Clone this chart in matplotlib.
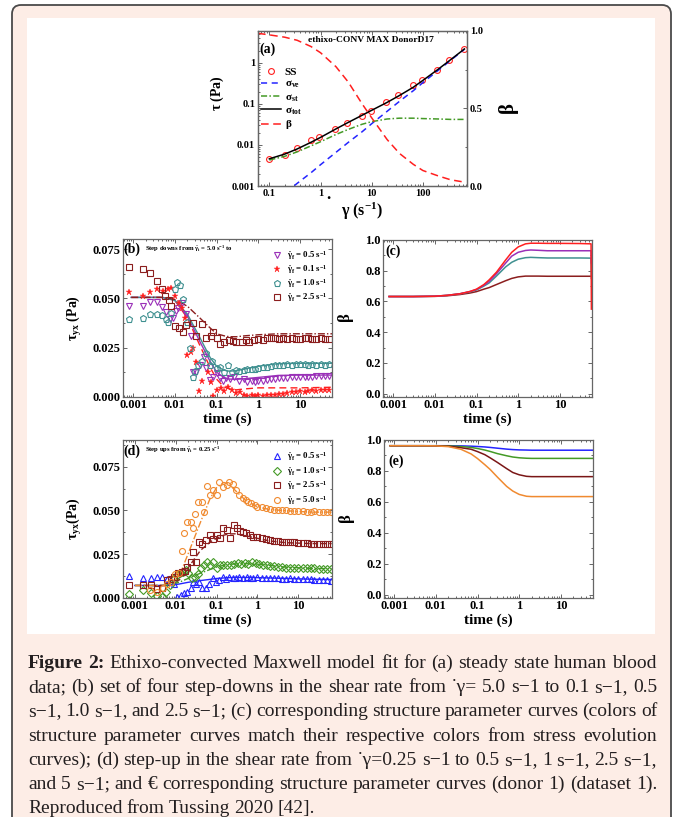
import matplotlib
matplotlib.use('Agg')
import matplotlib.pyplot as plt
from matplotlib.patches import FancyBboxPatch, Rectangle
from matplotlib.ticker import FixedLocator, FixedFormatter, LogLocator, MultipleLocator, NullFormatter, FormatStrFormatter

plt.rcParams['font.family'] = ['Liberation Serif', 'DejaVu Serif']
plt.rcParams['font.weight'] = 'bold'
plt.rcParams['mathtext.fontset'] = 'custom'
plt.rcParams['mathtext.rm'] = 'Liberation Serif:bold'
plt.rcParams['mathtext.it'] = 'Liberation Serif:bold'
plt.rcParams['mathtext.bf'] = 'Liberation Serif:bold'
plt.rcParams['mathtext.sf'] = 'Liberation Serif:bold'
plt.rcParams['axes.labelweight'] = 'bold'

# ---------------- (a) steady state ----------------
SS_RATE = [0.1, 0.2, 0.35, 0.65, 0.95, 1.9, 3.3, 6.6, 9.5, 19, 33, 65, 95, 185, 320, 630]
SS_TAU = [0.0045, 0.0058, 0.0083, 0.0133, 0.0154, 0.025, 0.035, 0.051, 0.068, 0.114,
          0.166, 0.285, 0.38, 0.67, 1.15, 2.13]
FIT_RATE = [0.1, 0.2, 0.35, 0.65, 1, 2, 3.5, 6.5, 10, 20, 35, 65, 100, 200, 350, 650]
SIG_VE = [0.00033, 0.00066, 0.00116, 0.0021, 0.0033, 0.0066, 0.0116, 0.021, 0.033, 0.066,
          0.116, 0.21, 0.33, 0.66, 1.16, 2.15]
SIG_ST = [0.0043, 0.0053, 0.0068, 0.0095, 0.012, 0.018, 0.024, 0.032, 0.037, 0.043,
          0.045, 0.045, 0.044, 0.043, 0.042, 0.042]
SIG_TOT = [0.0046, 0.006, 0.008, 0.0116, 0.0153, 0.0246, 0.0356, 0.053, 0.07, 0.109,
           0.161, 0.255, 0.374, 0.703, 1.2, 2.19]
BETA_RATE = [0.06, 0.1, 0.2, 0.35, 0.65, 1, 2, 3.5, 6.5, 10, 20, 35, 65, 100, 200, 350, 650]
BETA_SS = [0.985, 0.975, 0.96, 0.94, 0.90, 0.86, 0.77, 0.67, 0.53, 0.44, 0.30, 0.21, 0.14,
           0.10, 0.065, 0.04, 0.025]

# ---------------- (b) step downs ----------------
B_T_01 = [0.0008, 0.0017, 0.0026, 0.0038, 0.0052, 0.0069, 0.0083, 0.01, 0.0128, 0.0145, 0.018,
          0.0198, 0.024, 0.028, 0.033, 0.038, 0.044, 0.063, 0.073, 0.083, 0.104, 0.13, 0.15, 0.19,
          0.23, 0.29, 0.36, 0.45, 0.55, 0.7, 0.85, 1.0, 1.3, 1.6, 2, 2.5, 3.2, 4, 5, 6.3, 8, 10,
          13, 16, 20, 25, 32, 40, 50]
B_TAU_01 = [0.0535, 0.051, 0.0535, 0.055, 0.054, 0.0546, 0.0555, 0.0512, 0.0475, 0.045, 0.040,
            0.0212, 0.0225, 0.0246, 0.0178, 0.0029, 0.008, 0.0127, 0.0076, 0.0005, 0.0034, 0.0046,
            0.003, 0.005, 0.0034, 0.0017, 0.0025, 0.001, 0.0005, 0.0007, 0.0005, 0.0008, 0.0005,
            0.001, 0.0008, 0.001, 0.0015, 0.0012, 0.002, 0.0022, 0.0025, 0.003, 0.0025, 0.003,
            0.0032, 0.003, 0.0033, 0.0032, 0.0035]
B_T_05 = [0.0008, 0.0017, 0.0026, 0.0038, 0.0048, 0.006, 0.0076, 0.0088, 0.0105, 0.012, 0.015,
          0.019, 0.024, 0.028, 0.033, 0.04, 0.05, 0.057, 0.069, 0.083, 0.1, 0.12, 0.14, 0.17, 0.21,
          0.27, 0.35, 0.45, 0.55, 0.7, 0.85, 1.0, 1.3, 1.6, 2, 2.5, 3.2, 4, 5, 6.3, 8, 10, 13, 16,
          20, 25, 32, 40, 50]
B_TAU_05 = [0.046, 0.046, 0.048, 0.048, 0.0458, 0.043, 0.0395, 0.040, 0.0436, 0.045, 0.0475,
            0.042, 0.031, 0.0127, 0.0127, 0.016, 0.020, 0.0144, 0.0085, 0.010, 0.0119, 0.0093,
            0.008, 0.0097, 0.009, 0.0102, 0.008, 0.009, 0.0075, 0.008, 0.0075, 0.008, 0.008,
            0.0085, 0.009, 0.009, 0.0095, 0.0095, 0.0095, 0.010, 0.0098, 0.010, 0.0102, 0.010,
            0.0102, 0.0105, 0.0103, 0.0105, 0.0105]
B_T_10 = [0.0008, 0.0017, 0.0026, 0.0038, 0.0048, 0.006, 0.0069, 0.0083, 0.01, 0.0115, 0.013,
          0.016, 0.0198, 0.023, 0.027, 0.03, 0.036, 0.046, 0.055, 0.069, 0.08, 0.1, 0.12, 0.15,
          0.19, 0.23, 0.29, 0.35, 0.45, 0.55, 0.7, 0.85, 1.0, 1.3, 1.6, 2, 2.5, 3.2, 4, 5, 6.3, 8,
          10, 13, 16, 20, 25, 32, 40, 50]
B_TAU_10 = [0.0395, 0.040, 0.042, 0.042, 0.0415, 0.0395, 0.038, 0.0424, 0.055, 0.0585, 0.057,
            0.0497, 0.038, 0.0246, 0.0102, 0.013, 0.016, 0.018, 0.022, 0.016, 0.018, 0.0144,
            0.0153, 0.0127, 0.016, 0.0127, 0.0136, 0.013, 0.0135, 0.014, 0.014, 0.014, 0.0145,
            0.015, 0.015, 0.0155, 0.016, 0.016, 0.016, 0.0165, 0.016, 0.0165, 0.0165, 0.0165,
            0.016, 0.0165, 0.016, 0.0165, 0.016, 0.0165]
B_T_25 = [0.0008, 0.0017, 0.0026, 0.0038, 0.005, 0.0058, 0.0073, 0.0083, 0.01, 0.0128, 0.016,
          0.019, 0.028, 0.032, 0.046, 0.055, 0.072, 0.083, 0.1, 0.12, 0.15, 0.2, 0.25, 0.3, 0.4,
          0.5, 0.6, 0.8, 1, 1.3, 1.6, 2, 2.5, 3.2, 4, 5, 6.3, 8, 10, 13, 16, 20, 25, 32, 40, 50]
B_TAU_25 = [0.066, 0.065, 0.063, 0.059, 0.055, 0.051, 0.049, 0.046, 0.036, 0.035, 0.033, 0.0365,
            0.0373, 0.031, 0.037, 0.030, 0.031, 0.033, 0.030, 0.027, 0.028, 0.029, 0.0285, 0.028,
            0.028, 0.029, 0.028, 0.029, 0.0295, 0.029, 0.030, 0.030, 0.030, 0.0295, 0.030, 0.0295,
            0.030, 0.0295, 0.0295, 0.030, 0.030, 0.0295, 0.0295, 0.030, 0.0295, 0.0295]
B_FIT_T = [0.0009, 0.005, 0.01, 0.02, 0.04, 0.07, 0.1, 0.15, 0.2, 0.3, 0.5, 1, 3, 10, 60]
B_FIT_01 = [0.0505, 0.0505, 0.049, 0.040, 0.026, 0.015, 0.009, 0.005, 0.004, 0.0035, 0.004,
            0.0045, 0.0045, 0.0045, 0.0048]
B_FIT_05 = [0.0505, 0.0505, 0.049, 0.041, 0.028, 0.018, 0.0125, 0.0098, 0.009, 0.0088, 0.0092,
            0.0098, 0.0108, 0.011, 0.011]
B_FIT_10 = [0.0505, 0.0505, 0.049, 0.042, 0.030, 0.020, 0.0155, 0.0135, 0.013, 0.0132, 0.0142,
            0.0155, 0.0168, 0.017, 0.017]
B_FIT_25 = [0.0505, 0.0505, 0.0495, 0.046, 0.040, 0.035, 0.032, 0.031, 0.0305, 0.0305, 0.031,
            0.0315, 0.032, 0.032, 0.032]

# ---------------- (c) structure parameter, step downs ----------------
C_T = [0.0008, 0.003, 0.01, 0.02, 0.04, 0.07, 0.1, 0.15, 0.2, 0.3, 0.5, 0.7, 1, 1.5, 2, 3, 5,
       10, 30, 56, 57]
C_01 = [0.632, 0.632, 0.634, 0.64, 0.65, 0.665, 0.68, 0.71, 0.74, 0.79, 0.87, 0.92, 0.955, 0.975,
        0.979, 0.979, 0.978, 0.978, 0.977, 0.975, 0.55]
C_05 = [0.632, 0.632, 0.634, 0.64, 0.65, 0.665, 0.678, 0.705, 0.73, 0.78, 0.85, 0.895, 0.92,
        0.932, 0.935, 0.933, 0.93, 0.93, 0.93, 0.93, 0.85]
C_10 = [0.632, 0.632, 0.634, 0.64, 0.65, 0.662, 0.675, 0.70, 0.72, 0.765, 0.825, 0.855, 0.875,
        0.885, 0.887, 0.885, 0.883, 0.883, 0.883, 0.882, 0.75]
C_25 = [0.632, 0.632, 0.633, 0.637, 0.645, 0.655, 0.664, 0.68, 0.69, 0.71, 0.735, 0.75, 0.76,
        0.765, 0.765, 0.765, 0.764, 0.764, 0.764, 0.764, 0.764]

# ---------------- (d) step ups ----------------
D_T_05 = [0.00073, 0.0016, 0.0025, 0.0035, 0.0047, 0.006, 0.0075, 0.009, 0.011, 0.0134, 0.0158,
          0.019, 0.023, 0.027, 0.032, 0.037, 0.045, 0.055, 0.066, 0.08, 0.096, 0.116, 0.14, 0.17,
          0.2, 0.25, 0.3, 0.36, 0.45, 0.55, 0.65, 0.8, 1, 1.3, 1.6, 2, 2.5, 3.2, 4, 5, 6.3, 8, 10,
          13, 16, 20, 25, 32, 40, 50, 63]
D_TAU_05 = [0.0126, 0.0114, 0.0114, 0.012, 0.012, 0.0107, 0.0095, 0.0076, 0.0003, 0.0015,
            0.0025, 0.0034, 0.0053, 0.0088, 0.0076, 0.0092, 0.0053, 0.0057, 0.0076, 0.011, 0.0092,
            0.0101, 0.012, 0.0107, 0.012, 0.0114, 0.0114, 0.0118, 0.0114, 0.0118, 0.0114, 0.0114,
            0.0116, 0.0114, 0.0114, 0.011, 0.011, 0.0112, 0.0108, 0.0108, 0.011, 0.0108, 0.0105,
            0.0106, 0.0105, 0.0105, 0.0102, 0.0103, 0.0102, 0.010, 0.0098]
D_T_10 = [0.0007, 0.0016, 0.0025, 0.0035, 0.0045, 0.0057, 0.0072, 0.009, 0.011, 0.0127, 0.015,
          0.0177, 0.02, 0.0244, 0.03, 0.036, 0.041, 0.049, 0.059, 0.071, 0.083, 0.1, 0.12, 0.146,
          0.18, 0.22, 0.27, 0.33, 0.4, 0.5, 0.6, 0.75, 0.9, 1.1, 1.4, 1.7, 2, 2.5, 3.2, 4, 5, 6.3,
          8, 10, 13, 16, 20, 25, 32, 40, 50, 63]
D_TAU_10 = [0.0019, 0.0044, 0.0025, 0.0011, 0.0006, 0.0034, 0.0072, 0.0107, 0.013, 0.014,
            0.0149, 0.0158, 0.014, 0.0114, 0.012, 0.0134, 0.0168, 0.0187, 0.0202, 0.0187, 0.0206,
            0.0172, 0.0187, 0.019, 0.019, 0.019, 0.0195, 0.020, 0.0195, 0.0198, 0.0195, 0.0205,
            0.020, 0.0195, 0.019, 0.0185, 0.018, 0.018, 0.0175, 0.0175, 0.017, 0.017, 0.017,
            0.017, 0.0168, 0.0168, 0.0168, 0.0168, 0.0165, 0.0165, 0.0165, 0.0165]
D_T_25 = [0.00073, 0.0016, 0.0025, 0.0035, 0.0047, 0.006, 0.0075, 0.009, 0.0115, 0.014, 0.017,
          0.019, 0.023, 0.027, 0.032, 0.037, 0.045, 0.055, 0.069, 0.083, 0.1, 0.12, 0.146, 0.18,
          0.21, 0.26, 0.31, 0.37, 0.45, 0.54, 0.65, 0.8, 1, 1.3, 1.6, 2, 2.5, 3.2, 4, 5, 6.3, 8,
          10, 13, 16, 20, 25, 32, 40, 50, 63]
D_TAU_25 = [0.0072, 0.0072, 0.0072, 0.005, 0.0057, 0.010, 0.0107, 0.012, 0.014, 0.0149, 0.0153,
            0.0177, 0.0206, 0.0263, 0.0206, 0.0317, 0.0305, 0.033, 0.0359, 0.0336, 0.0359, 0.034,
            0.040, 0.0387, 0.0343, 0.0416, 0.0397, 0.038, 0.0378, 0.0368, 0.036, 0.035, 0.0345,
            0.034, 0.0335, 0.033, 0.0325, 0.0325, 0.032, 0.032, 0.0318, 0.0318, 0.0315, 0.0315,
            0.0312, 0.031, 0.031, 0.031, 0.031, 0.0308, 0.0305]
D_T_50 = [0.0023, 0.0035, 0.005, 0.006, 0.0075, 0.0095, 0.012, 0.0139, 0.0158, 0.019, 0.023,
          0.027, 0.03, 0.036, 0.043, 0.049, 0.057, 0.069, 0.083, 0.1, 0.116, 0.14, 0.18, 0.2, 0.25,
          0.3, 0.36, 0.45, 0.54, 0.6, 0.7, 0.85, 1, 1.3, 1.6, 2, 2.5, 3.2, 4, 5, 6.3, 8, 10, 13,
          16, 20, 25, 32, 40, 50, 63]
D_TAU_50 = [0.0044, 0.0034, 0.0053, 0.008, 0.009, 0.0134, 0.014, 0.0267, 0.0368, 0.0435, 0.0435,
            0.040, 0.048, 0.055, 0.055, 0.049, 0.064, 0.059, 0.0616, 0.059, 0.066, 0.0635, 0.0645,
            0.066, 0.0649, 0.0616, 0.059, 0.057, 0.056, 0.055, 0.0545, 0.053, 0.052, 0.052,
            0.0515, 0.051, 0.0505, 0.050, 0.050, 0.050, 0.0495, 0.0497, 0.0495, 0.0495, 0.049,
            0.049, 0.0495, 0.049, 0.049, 0.049, 0.0488]
D_FIT_T = [0.001, 0.005, 0.008, 0.012, 0.02, 0.04, 0.07, 0.1, 0.15, 0.2, 0.3, 0.5, 1, 2, 5, 20, 66]
D_FIT_05 = [0.007, 0.007, 0.0072, 0.0078, 0.0088, 0.0098, 0.0105, 0.011, 0.0113, 0.0115, 0.0116,
            0.0116, 0.0115, 0.0113, 0.011, 0.0106, 0.0104]
D_FIT_10 = [0.007, 0.007, 0.0075, 0.0088, 0.011, 0.014, 0.0162, 0.0175, 0.0186, 0.019, 0.0194,
            0.0195, 0.0192, 0.0185, 0.0175, 0.0168, 0.0166]
D_FIT_25 = [0.007, 0.007, 0.0075, 0.010, 0.017, 0.027, 0.032, 0.034, 0.0358, 0.0365, 0.0366,
            0.0355, 0.034, 0.0325, 0.0315, 0.031, 0.031]
D_FIT_50 = [0.007, 0.007, 0.008, 0.012, 0.025, 0.043, 0.057, 0.063, 0.066, 0.065, 0.061, 0.056,
            0.052, 0.0505, 0.0498, 0.049, 0.049]

# ---------------- (e) structure parameter, step ups ----------------
E_T = [0.0008, 0.005, 0.01, 0.02, 0.04, 0.07, 0.1, 0.15, 0.2, 0.3, 0.5, 0.7, 1, 1.5, 2, 5, 20, 66]
E_05 = [0.963, 0.963, 0.963, 0.963, 0.962, 0.96, 0.958, 0.955, 0.952, 0.947, 0.941, 0.938,
        0.936, 0.935, 0.934, 0.934, 0.934, 0.934]
E_10 = [0.963, 0.963, 0.963, 0.962, 0.958, 0.952, 0.945, 0.935, 0.926, 0.912, 0.898, 0.89,
        0.885, 0.882, 0.881, 0.881, 0.881, 0.881]
E_25 = [0.963, 0.963, 0.962, 0.96, 0.95, 0.94, 0.925, 0.905, 0.885, 0.855, 0.815, 0.79, 0.775,
        0.765, 0.763, 0.763, 0.763, 0.763]
E_50 = [0.963, 0.963, 0.962, 0.957, 0.94, 0.91, 0.88, 0.84, 0.81, 0.76, 0.70, 0.67, 0.648,
        0.636, 0.634, 0.634, 0.634, 0.634]

CAPTION = [
    "Figure 2: Ethixo-convected Maxwell model fit for (a) steady state human blood",
    "data; (b) set of four step-downs in the shear rate from \u02d9\u03b3= 5.0 s\u22121 to 0.1 s\u22121, 0.5",
    "s\u22121, 1.0 s\u22121, and 2.5 s\u22121; (c) corresponding structure parameter curves (colors of",
    "structure parameter curves match their respective colors from stress evolution",
    "curves); (d) step-up in the shear rate from \u02d9\u03b3=0.25 s\u22121 to 0.5 s\u22121, 1 s\u22121, 2.5 s\u22121,",
    "and 5 s\u22121; and \u20ac corresponding structure parameter curves (donor 1) (dataset 1).",
    "Reproduced from Tussing 2020 [42].",
]

PURPLE, RED, TEAL, DRED = '#9a30b8', '#ff1f1f', '#3f9090', '#8b1e1e'
BLUE, GREEN, ORANGE = '#2424ff', '#449a26', '#f08a30'
SPINE = '#666666'
W, H = 675, 817


def frac(x0, y0, x1, y1):
    return [x0 / W, 1 - y1 / H, (x1 - x0) / W, (y1 - y0) / H]


def style(ax, size=9):
    ax.tick_params(which='both', direction='in', top=True, right=True, labelsize=size,
                   color=SPINE, width=0.7, pad=2)
    ax.tick_params(which='major', length=3)
    ax.tick_params(which='minor', length=1.6)
    for s in ax.spines.values():
        s.set_color(SPINE)
        s.set_linewidth(0.9)
    for lab in ax.get_xticklabels() + ax.get_yticklabels():
        lab.set_fontweight('bold')


def time_axis(ax, xlim):
    ax.set_xscale('log')
    ax.set_xlim(*xlim)
    ax.xaxis.set_major_locator(FixedLocator([0.001, 0.01, 0.1, 1, 10]))
    ax.xaxis.set_major_formatter(FixedFormatter(['0.001', '0.01', '0.1', '1', '10']))
    ax.xaxis.set_minor_locator(LogLocator(base=10, subs=range(2, 10), numticks=20))
    ax.xaxis.set_minor_formatter(NullFormatter())
    ax.set_xlabel('time (s)', fontsize=11, labelpad=1)


fig = plt.figure(figsize=(W / 100, H / 100), dpi=100)
fig.patch.set_facecolor('white')
fig.add_artist(FancyBboxPatch((0.12, -0.3), 6.59, 8.42, boxstyle='round,pad=0,rounding_size=0.09',
                              transform=fig.dpi_scale_trans, facecolor='#fdede6',
                              edgecolor='#4a4a4a', linewidth=1.3, zorder=-10))
fig.add_artist(Rectangle((27 / W, 1 - 634 / H), 628 / W, 616 / H, transform=fig.transFigure,
                         facecolor='white', edgecolor='none', zorder=-9))

# ---- panel (a)
ax = fig.add_axes(frac(258, 31, 467, 186))
ax.set_xscale('log')
ax.set_yscale('log')
ax.set_xlim(0.06, 730)
ax.set_ylim(0.001, 6)
h1, = ax.plot(SS_RATE, SS_TAU, 'o', mfc='none', mec=RED, ms=4.2, mew=0.8, label='SS')
h2, = ax.plot(FIT_RATE, SIG_VE, '--', color=BLUE, lw=1.1, dashes=(4, 3), label=r'$\sigma_{ve}$')
h3, = ax.plot(FIT_RATE, SIG_ST, '-.', color=GREEN, lw=1.1, dashes=(4, 1.5, 1, 1.5), label=r'$\sigma_{st}$')
h4, = ax.plot(FIT_RATE, SIG_TOT, '-', color='black', lw=1.1, label=r'$\sigma_{tot}$')
ax.xaxis.set_major_locator(FixedLocator([0.1, 1, 10, 100]))
ax.xaxis.set_major_formatter(FixedFormatter(['0.1', '1', '10', '100']))
ax.yaxis.set_major_locator(FixedLocator([0.001, 0.01, 0.1, 1]))
ax.yaxis.set_major_formatter(FixedFormatter(['0.001', '0.01', '0.1', '1']))
for axis in (ax.xaxis, ax.yaxis):
    axis.set_minor_locator(LogLocator(base=10, subs=range(2, 10), numticks=20))
    axis.set_minor_formatter(NullFormatter())
style(ax, 7.5)
ax.tick_params(right=False, which='both')
ax.set_ylabel(r'$\tau$ (Pa)', fontsize=10)
ax.yaxis.set_label_coords(-0.155, 0.6)
ax.set_xlabel(r'$\gamma$ (s$^{-1}$)', fontsize=11.5, labelpad=2)
ax.text(0.005, 0.88, '(a)', transform=ax.transAxes, fontsize=10, ha='left', va='center')
ax.text(0.84, 0.94, 'ethixo-CONV MAX DonorD17', transform=ax.transAxes, fontsize=6.8,
        ha='right', va='center')
fig.text(328 / W, 1 - 195 / H, '.', fontsize=12, ha='center', va='center')
axb = ax.twinx()
axb.set_ylim(0, 1.0)
h5, = axb.plot(BETA_RATE, BETA_SS, '--', color=RED, lw=1.1, dashes=(5, 3), label=r'$\beta$')
axb.yaxis.set_major_locator(FixedLocator([0.0, 0.5, 1.0]))
axb.yaxis.set_major_formatter(FormatStrFormatter('%.1f'))
axb.yaxis.set_minor_locator(MultipleLocator(0.25))
style(axb, 7.5)
axb.set_ylabel(r'$\beta$', fontsize=15, rotation=90, labelpad=10)
axb.legend([h1, h2, h3, h4, h5], ['SS', r'$\sigma_{ve}$', r'$\sigma_{st}$', r'$\sigma_{tot}$', r'$\beta$'],
           loc='upper left', bbox_to_anchor=(-0.01, 0.8), frameon=False, fontsize=8,
           handlelength=1.8, handletextpad=0.3, labelspacing=0.15, borderpad=0)

# ---- panel (b)
ax = fig.add_axes(frac(123.3, 239, 331.7, 396.7))
time_axis(ax, (0.00058, 58))
ax.set_ylim(0, 0.0802)
ax.plot(B_FIT_T, B_FIT_01, '--', color=RED, lw=1.0, dashes=(5, 3))
ax.plot(B_FIT_T, B_FIT_05, '-', color=PURPLE, lw=1.0)
ax.plot(B_FIT_T, B_FIT_10, '-', color=TEAL, lw=1.0)
ax.plot(B_FIT_T, B_FIT_25, '-.', color=DRED, lw=1.0, dashes=(5, 1.5, 1, 1.5))
pb = [ax.plot(B_T_05, B_TAU_05, 'v', mfc='none', mec=PURPLE, ms=4.5, mew=0.8)[0],
      ax.plot(B_T_01, B_TAU_01, '*', color=RED, ms=5, mew=0.3)[0],
      ax.plot(B_T_10, B_TAU_10, 'p', mfc='none', mec=TEAL, ms=4.8, mew=0.8)[0],
      ax.plot(B_T_25, B_TAU_25, 's', mfc='none', mec=DRED, ms=3.8, mew=0.8)[0]]
ax.yaxis.set_major_locator(MultipleLocator(0.025))
ax.yaxis.set_minor_locator(MultipleLocator(0.0125))
ax.yaxis.set_major_formatter(FormatStrFormatter('%.3f'))
style(ax)
ax.set_ylabel(r'$\tau_{yx}$ (Pa)', fontsize=10)
ax.yaxis.set_label_coords(-0.19, 0.5)
ax.text(0.0, 0.935, '(b)', transform=ax.transAxes, fontsize=10, ha='left', va='center')
ax.text(0.105, 0.935, r'Step downs from $\dot{\gamma}_\mathregular{i}$ = 5.0 s$^{-1}$ to',
        transform=ax.transAxes, fontsize=4.8, ha='left', va='center')
ax.legend(pb, [r'$\dot{\gamma}_\mathregular{f}$ = %s s$^{-1}$' % v for v in ('0.5', '0.1', '1.0', '2.5')],
          loc='upper right', bbox_to_anchor=(1.0, 0.965), frameon=False, fontsize=6.3,
          handlelength=1.0, handletextpad=0.6, labelspacing=0.12, borderpad=0)

# ---- panel (c)
ax = fig.add_axes(frac(383.3, 240, 591.7, 396.7))
time_axis(ax, (0.00058, 58))
ax.set_ylim(-0.02, 1.0)
for ys, c in ((C_25, DRED), (C_10, TEAL), (C_05, PURPLE), (C_01, RED)):
    ax.plot(C_T, ys, '-', color=c, lw=1.1)
ax.yaxis.set_major_locator(MultipleLocator(0.2))
ax.yaxis.set_minor_locator(MultipleLocator(0.1))
ax.yaxis.set_major_formatter(FormatStrFormatter('%.1f'))
style(ax)
ax.set_ylabel(r'$\beta$', fontsize=12)
ax.yaxis.set_label_coords(-0.13, 0.5)
ax.text(0.01, 0.925, '(c)', transform=ax.transAxes, fontsize=10, ha='left', va='center')

# ---- panel (d)
ax = fig.add_axes(frac(123.3, 440, 331.7, 597.7))
time_axis(ax, (0.00052, 66))
ax.set_ylim(0, 0.0903)
ax.plot(D_FIT_T, D_FIT_05, '-', color=BLUE, lw=1.0)
ax.plot(D_FIT_T, D_FIT_10, '-.', color=GREEN, lw=1.0, dashes=(5, 1.5, 1, 1.5))
ax.plot(D_FIT_T, D_FIT_25, '--', color=DRED, lw=1.0, dashes=(4, 2))
ax.plot(D_FIT_T, D_FIT_50, '-.', color=ORANGE, lw=1.0, dashes=(5, 1.5, 1, 1.5))
pd = [ax.plot(D_T_05, D_TAU_05, '^', mfc='none', mec=BLUE, ms=4.3, mew=0.8)[0],
      ax.plot(D_T_10, D_TAU_10, 'D', mfc='none', mec=GREEN, ms=3.6, mew=0.8)[0],
      ax.plot(D_T_25, D_TAU_25, 's', mfc='none', mec=DRED, ms=3.8, mew=0.8)[0],
      ax.plot(D_T_50, D_TAU_50, 'o', mfc='none', mec=ORANGE, ms=4.3, mew=0.8)[0]]
ax.yaxis.set_major_locator(MultipleLocator(0.025))
ax.yaxis.set_minor_locator(MultipleLocator(0.0125))
ax.yaxis.set_major_formatter(FormatStrFormatter('%.3f'))
style(ax)
ax.set_ylabel(r'$\tau_{yx}$(Pa)', fontsize=10)
ax.yaxis.set_label_coords(-0.19, 0.5)
ax.text(0.0, 0.93, '(d)', transform=ax.transAxes, fontsize=10, ha='left', va='center')
ax.text(0.105, 0.935, r'Step ups from $\dot{\gamma}_\mathregular{i}$ = 0.25 s$^{-1}$',
        transform=ax.transAxes, fontsize=4.8, ha='left', va='center')
ax.legend(pd, [r'$\dot{\gamma}_\mathregular{f}$ = %s s$^{-1}$' % v for v in ('0.5', '1.0', '2.5', '5.0')],
          loc='upper right', bbox_to_anchor=(1.0, 0.965), frameon=False, fontsize=6.3,
          handlelength=1.0, handletextpad=0.6, labelspacing=0.2, borderpad=0)

# ---- panel (e)
ax = fig.add_axes(frac(384.3, 440, 592.7, 597.7))
time_axis(ax, (0.00058, 58))
ax.set_ylim(-0.02, 1.0)
for ys, c in ((E_05, BLUE), (E_10, GREEN), (E_25, '#7a1616'), (E_50, ORANGE)):
    ax.plot(E_T, ys, '-', color=c, lw=1.1)
ax.yaxis.set_major_locator(MultipleLocator(0.2))
ax.yaxis.set_minor_locator(MultipleLocator(0.1))
ax.yaxis.set_major_formatter(FormatStrFormatter('%.1f'))
style(ax)
ax.set_ylabel(r'$\beta$', fontsize=12)
ax.yaxis.set_label_coords(-0.13, 0.5)
ax.text(0.02, 0.865, '(e)', transform=ax.transAxes, fontsize=10, ha='left', va='center')

# ---- caption, justified between x=28 and x=657 px
fig.canvas.draw()
rend = fig.canvas.get_renderer()
left, right, base0, step = 28, 657, 668, 24.2
for i, line in enumerate(CAPTION):
    words = line.split(' ')
    texts = []
    for j, w in enumerate(words):
        bold = i == 0 and j < 2
        texts.append(fig.text(0, 0, w, fontsize=14, family='Liberation Serif', color='#231f20',
                              weight='bold' if bold else 'normal', va='baseline', ha='left'))
    widths = [t.get_window_extent(rend).width for t in texts]
    if i < len(CAPTION) - 1:
        gap = (right - left - sum(widths)) / (len(words) - 1)
    else:
        gap = 4.0
    x = left
    y = 1 - (base0 + i * step) / H
    for t, wd in zip(texts, widths):
        t.set_position((x / W, y))
        x += wd + gap

fig.savefig('out.png', dpi=100)
